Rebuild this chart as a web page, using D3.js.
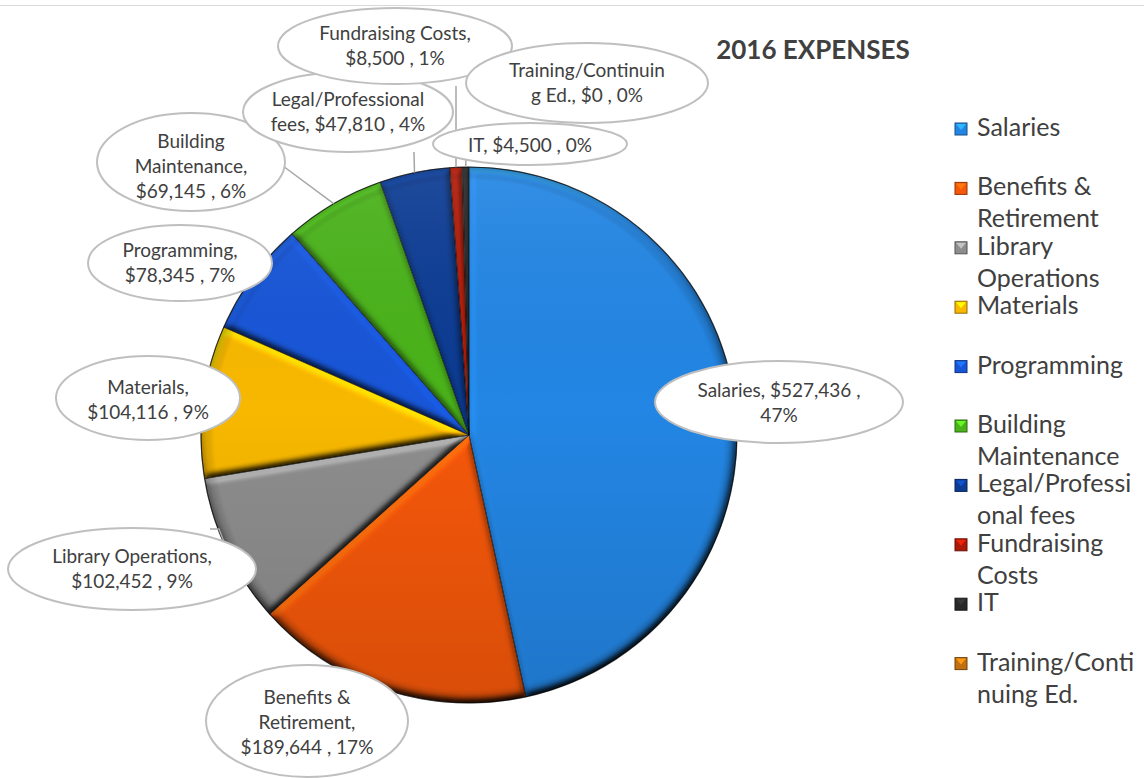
<!DOCTYPE html>
<html>
<head>
<meta charset="utf-8">
<script src="https://cdn.jsdelivr.net/npm/d3@7/dist/d3.min.js"></script>
<style>
  html, body { margin: 0; padding: 0; background: #fff; }
  svg { display: block; }
  text { font-family: Lato, "Noto Sans", sans-serif; fill: #404040; }
</style>
</head>
<body>
<svg id="chart" width="1144" height="778"></svg>
<script>
// ---- data ----
const categories = ["Salaries", "Benefits & Retirement", "Library Operations", "Materials", "Programming",
  "Building Maintenance", "Legal/Professional fees", "Fundraising Costs", "IT", "Training/Continuing Ed."];
const values = [527436, 189644, 102452, 104116, 78345, 69145, 47810, 8500, 4500, 0];
const colors = ["#2386e4", "#f6580a", "#8e8e8e", "#f8b800", "#1856d8", "#4ab31a", "#0c3c94", "#ae1a08", "#282828", "#c07010"];
const legendLines = [["Salaries"], ["Benefits &", "Retirement"], ["Library", "Operations"], ["Materials"], ["Programming"],
  ["Building", "Maintenance"], ["Legal/Professi", "onal fees"], ["Fundraising", "Costs"], ["IT"], ["Training/Conti", "nuing Ed."]];
const title = "2016 EXPENSES";

// ---- layout (callout bubbles, positions only) ----
// [ellipse cx, cy, rx, ry, max chars per line]
const callouts = [
  [779, 402, 124, 41, 20],
  [307, 721, 101, 56, 14],
  [132, 569, 124, 41, 20],
  [148, 398, 92, 42, 14],
  [180, 263, 92, 38, 14],
  [191, 162, 94, 49, 14],
  [348, 112, 105, 40, 18],
  [395, 46, 117, 38, 18],
  [530, 144, 97, 21, 16],
  [587, 83, 121, 40, 18]
];
const calloutTextDy = [1, 1, 0, 2, 0, 4, 0, 0, 1, 0];
// leader start points (null = no leader)
const leaders = [null, null, [[210, 529], [219, 529]], null, null, [[283, 166]], [[414, 152]], [[456, 86]], [[466, 160]], null];

const W = 1144, H = 778;
const cx = 469, cy = 435, R = 268;
const svg = d3.select("#chart");
const defs = svg.append("defs");

const data = categories.map((c, i) => ({ name: c, value: values[i], color: colors[i], i }));
const total = d3.sum(values);

// background + top rule
svg.append("rect").attr("width", W).attr("height", H).attr("fill", "#fff");
svg.append("line").attr("x1", 0).attr("x2", W).attr("y1", 5.5).attr("y2", 5.5).attr("stroke", "#d9d9d9").attr("stroke-width", 1);

// bevel filter (diffuse lighting multiplied onto the slice colour)
const f = defs.append("filter").attr("id", "bevel").attr("x", "-5%").attr("y", "-5%").attr("width", "110%").attr("height", "110%")
  .attr("color-interpolation-filters", "sRGB");
f.append("feGaussianBlur").attr("in", "SourceAlpha").attr("stdDeviation", 3.5).attr("result", "blur");
const dl = f.append("feDiffuseLighting").attr("in", "blur").attr("surfaceScale", 3.5).attr("diffuseConstant", 1.13)
  .attr("lighting-color", "#ffffff").attr("result", "light");
dl.append("feDistantLight").attr("azimuth", 250).attr("elevation", 45);
f.append("feComposite").attr("in", "SourceGraphic").attr("in2", "light").attr("operator", "arithmetic")
  .attr("k1", 1.25).attr("k2", 0).attr("k3", 0).attr("k4", 0).attr("result", "lit");
f.append("feComposite").attr("in", "lit").attr("in2", "SourceAlpha").attr("operator", "in");

// vertical shading overlay
const lg = defs.append("linearGradient").attr("id", "shade").attr("gradientUnits", "userSpaceOnUse")
  .attr("x1", 0).attr("y1", cy - R).attr("x2", 0).attr("y2", cy + R);
lg.append("stop").attr("offset", 0).attr("stop-color", "#fff").attr("stop-opacity", 0.08);
lg.append("stop").attr("offset", 0.45).attr("stop-color", "#000").attr("stop-opacity", 0.0);
lg.append("stop").attr("offset", 1).attr("stop-color", "#000").attr("stop-opacity", 0.12);

const rg = defs.append("radialGradient").attr("id", "rim").attr("gradientUnits", "userSpaceOnUse")
  .attr("cx", cx).attr("cy", cy).attr("r", R);
rg.append("stop").attr("offset", 0.95).attr("stop-color", "#000").attr("stop-opacity", 0);
rg.append("stop").attr("offset", 1).attr("stop-color", "#000").attr("stop-opacity", 0.25);

// pie
const pie = d3.pie().sort(null).value(d => d.value);
const arcs = pie(data);
const arc = d3.arc().innerRadius(0).outerRadius(R);
const gPie = svg.append("g").attr("transform", `translate(${cx},${cy})`);

gPie.selectAll("path.slice").data(arcs.filter(a => a.data.value > 0)).join("path")
  .attr("class", "slice")
  .attr("d", arc)
  .attr("fill", d => d.data.color)
  .attr("filter", "url(#bevel)");
gPie.selectAll("path.edge").data(arcs.filter(a => a.data.value > 0)).join("path")
  .attr("class", "edge")
  .attr("d", arc)
  .attr("fill", "none")
  .attr("stroke", "rgba(0,0,0,0.55)")
  .attr("stroke-width", 0.8);

gPie.append("circle").attr("r", R).attr("fill", "url(#shade)").attr("transform", `translate(${-cx},${-cy})`)
  .attr("cx", cx).attr("cy", cy);
gPie.append("circle").attr("r", R).attr("fill", "url(#rim)").attr("transform", `translate(${-cx},${-cy})`)
  .attr("cx", cx).attr("cy", cy);
gPie.append("circle").attr("r", R).attr("fill", "none").attr("stroke", "rgba(0,0,0,0.6)").attr("stroke-width", 1.2);

// leader lines
const edgePoint = a => {
  const m = (a.startAngle + a.endAngle) / 2;
  return [cx + R * Math.sin(m), cy - R * Math.cos(m)];
};
arcs.forEach((a, i) => {
  if (!leaders[i] || a.data.value <= 0) return;
  const pts = leaders[i].concat([edgePoint(a)]);
  svg.append("path").attr("d", d3.line()(pts)).attr("fill", "none")
    .attr("stroke", "#a6a6a6").attr("stroke-width", 1.5);
});

// callout labels
const money = d3.format("$,");
function wrap(str, max) {
  const words = str.split(" ");
  const lines = [];
  let cur = "";
  words.forEach(w => {
    while (w.length > max) {
      const room = cur ? max - cur.length - 1 : max;
      if (room <= 0) { lines.push(cur); cur = ""; continue; }
      lines.push(cur ? cur + " " + w.slice(0, room) : w.slice(0, room));
      cur = ""; w = w.slice(room);
    }
    if (!cur) cur = w;
    else if (cur.length + 1 + w.length <= max) cur += " " + w;
    else { lines.push(cur); cur = w; }
  });
  if (cur) lines.push(cur);
  return lines;
}
const fs = 19, lh = 25;
data.forEach((d, i) => {
  const [ex, ey, rx, ry, maxc] = callouts[i];
  const pct = Math.round(d.value / total * 100);
  const label = `${d.name}, ${money(d.value)} , ${pct}%`;
  const lines = wrap(label, maxc);
  const g = svg.append("g");
  g.append("ellipse").attr("cx", ex).attr("cy", ey).attr("rx", rx).attr("ry", ry)
    .attr("fill", "#fff").attr("stroke", "#bfbfbf").attr("stroke-width", 2);
  const t = g.append("text").attr("text-anchor", "middle").attr("font-size", fs);
  lines.forEach((ln, k) => {
    t.append("tspan").attr("x", ex)
      .attr("y", ey + calloutTextDy[i] + (k - (lines.length - 1) / 2) * lh + fs * 0.36).text(ln);
  });
});

// title
svg.append("text").attr("x", 813).attr("y", 59).attr("text-anchor", "middle")
  .attr("font-size", 26).attr("font-weight", 700).text(title);

// legend
const lx = 955, ly0 = 136, lstep = 59.4, llh = 32, lfs = 25;
const gl = svg.append("g");
data.forEach((d, i) => {
  const y = ly0 + i * lstep;
  const c = d3.color(d.color);
  gl.append("rect").attr("x", lx).attr("y", y - 13).attr("width", 12).attr("height", 12)
    .attr("fill", d.color).attr("stroke", c.darker(1.5)).attr("stroke-width", 1);
  gl.append("path").attr("d", `M${lx + 1},${y - 12}L${lx + 11},${y - 12}L${lx + 6},${y - 6}Z`)
    .attr("fill", c.brighter(0.9));
  const t = gl.append("text").attr("font-size", lfs);
  legendLines[i].forEach((ln, k) => {
    t.append("tspan").attr("x", lx + 22).attr("y", y + k * llh).text(ln);
  });
});
</script>
</body>
</html>
